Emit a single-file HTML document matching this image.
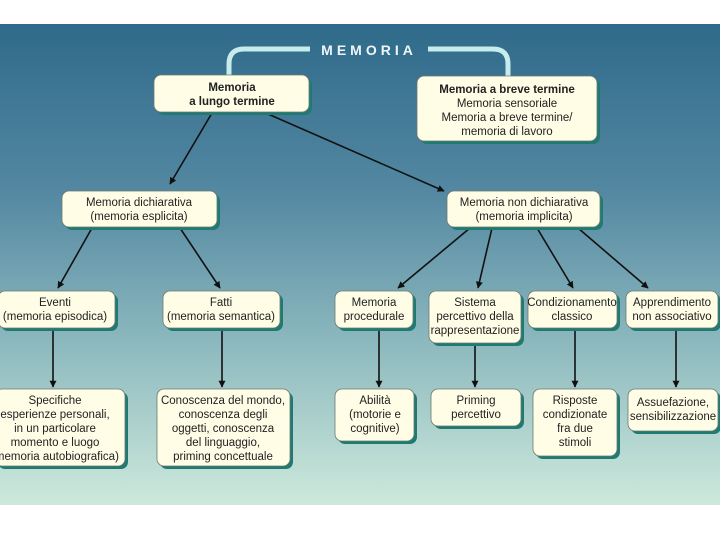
<!DOCTYPE html>
<html><head><meta charset="utf-8"><style>
html,body{margin:0;padding:0;background:#fff;}
svg{display:block;}
text{font-family:"Liberation Sans",sans-serif;fill:#222;font-size:11.5px;text-anchor:middle;}
.b{font-weight:bold;}
</style></head><body>
<svg width="720" height="540" viewBox="0 0 720 540" xmlns="http://www.w3.org/2000/svg">
<defs>
<linearGradient id="bg" x1="0" y1="0" x2="0" y2="1">
<stop offset="0" stop-color="#2f6a8a"/>
<stop offset="0.35" stop-color="#5488a2"/>
<stop offset="0.65" stop-color="#8ab7bd"/>
<stop offset="1" stop-color="#cde9dc"/>
</linearGradient>
<marker id="ar" viewBox="0 0 10 10" refX="9" refY="5" markerWidth="7" markerHeight="7" orient="auto-start-reverse" markerUnits="userSpaceOnUse">
<path d="M0,0 L10,5 L0,10 z" fill="#111"/>
</marker>
</defs>
<rect x="0" y="24" width="720" height="481" fill="url(#bg)"/>
<!-- bracket -->
<path d="M310,49 H244 Q229,49 229,64 V76" fill="none" stroke="#c6ecec" stroke-width="5"/>
<path d="M428,49 H493 Q508,49 508,64 V77" fill="none" stroke="#c6ecec" stroke-width="5"/>
<text x="369" y="55" class="b" style="fill:#eef6f8;font-size:14px;letter-spacing:4px">MEMORIA</text>
<!-- arrows -->
<g stroke="#111" stroke-width="1.6" fill="none" marker-end="url(#ar)">
<line x1="212" y1="113" x2="170" y2="184"/>
<line x1="268" y1="114" x2="444" y2="191"/>
<line x1="92" y1="228" x2="58" y2="288"/>
<line x1="180" y1="228" x2="220" y2="288"/>
<line x1="470" y1="228" x2="398" y2="288"/>
<line x1="492" y1="228" x2="478" y2="288"/>
<line x1="537" y1="228" x2="573" y2="288"/>
<line x1="578" y1="228" x2="648" y2="288"/>
<line x1="53" y1="328" x2="53" y2="387"/>
<line x1="222" y1="328" x2="222" y2="387"/>
<line x1="379" y1="328" x2="379" y2="387"/>
<line x1="475" y1="343" x2="475" y2="387"/>
<line x1="575" y1="328" x2="575" y2="387"/>
<line x1="676" y1="328" x2="676" y2="387"/>
</g>
<!-- boxes -->
<g>
<g fill="#1f7a72">
<rect x="157" y="78" width="155" height="37" rx="7"/>
<rect x="420" y="79" width="180" height="65" rx="7"/>
<rect x="65" y="194" width="155" height="36" rx="7"/>
<rect x="450" y="194" width="153" height="36" rx="7"/>
<rect x="1" y="294" width="117" height="37" rx="7"/>
<rect x="166" y="294" width="117" height="37" rx="7"/>
<rect x="338" y="294" width="78" height="37" rx="7"/>
<rect x="432" y="294" width="92" height="52" rx="7"/>
<rect x="531" y="294" width="89" height="37" rx="7"/>
<rect x="629" y="294" width="92" height="37" rx="7"/>
<rect x="-2" y="392" width="130" height="77" rx="7"/>
<rect x="160" y="392" width="133" height="77" rx="7"/>
<rect x="338" y="392" width="79" height="52" rx="7"/>
<rect x="434" y="392" width="90" height="37" rx="7"/>
<rect x="536" y="392" width="84" height="67" rx="7"/>
<rect x="631" y="392" width="90" height="42" rx="7"/>
</g>
<g fill="#fffde6" stroke="#6b7a70" stroke-width="0.8">
<rect x="154" y="75" width="155" height="37" rx="7"/>
<rect x="417" y="76" width="180" height="65" rx="7"/>
<rect x="62" y="191" width="155" height="36" rx="7"/>
<rect x="447" y="191" width="153" height="36" rx="7"/>
<rect x="-2" y="291" width="117" height="37" rx="7"/>
<rect x="163" y="291" width="117" height="37" rx="7"/>
<rect x="335" y="291" width="78" height="37" rx="7"/>
<rect x="429" y="291" width="92" height="52" rx="7"/>
<rect x="528" y="291" width="89" height="37" rx="7"/>
<rect x="626" y="291" width="92" height="37" rx="7"/>
<rect x="-5" y="389" width="130" height="77" rx="7"/>
<rect x="157" y="389" width="133" height="77" rx="7"/>
<rect x="335" y="389" width="79" height="52" rx="7"/>
<rect x="431" y="389" width="90" height="37" rx="7"/>
<rect x="533" y="389" width="84" height="67" rx="7"/>
<rect x="628" y="389" width="90" height="42" rx="7"/>
</g>
</g>
<!-- texts -->
<text x="232" y="91" class="b">Memoria</text>
<text x="232" y="105" class="b">a lungo termine</text>
<text x="507" y="93" class="b">Memoria a breve termine</text>
<text x="507" y="107">Memoria sensoriale</text>
<text x="507" y="121">Memoria a breve termine/</text>
<text x="507" y="135">memoria di lavoro</text>
<text x="139" y="206">Memoria dichiarativa</text>
<text x="139" y="220">(memoria esplicita)</text>
<text x="524" y="206">Memoria non dichiarativa</text>
<text x="524" y="220">(memoria implicita)</text>
<text x="55" y="306">Eventi</text>
<text x="55" y="320">(memoria episodica)</text>
<text x="221" y="306">Fatti</text>
<text x="221" y="320">(memoria semantica)</text>
<text x="374" y="306">Memoria</text>
<text x="374" y="320">procedurale</text>
<text x="475" y="306">Sistema</text>
<text x="475" y="320">percettivo della</text>
<text x="475" y="334">rappresentazione</text>
<text x="572" y="306">Condizionamento</text>
<text x="572" y="320">classico</text>
<text x="672" y="306">Apprendimento</text>
<text x="672" y="320">non associativo</text>
<text x="55" y="404">Specifiche</text>
<text x="55" y="418">esperienze personali,</text>
<text x="55" y="432">in un particolare</text>
<text x="55" y="446">momento e luogo</text>
<text x="55" y="460">(memoria autobiografica)</text>
<text x="223" y="404">Conoscenza del mondo,</text>
<text x="223" y="418">conoscenza degli</text>
<text x="223" y="432">oggetti, conoscenza</text>
<text x="223" y="446">del linguaggio,</text>
<text x="223" y="460">priming concettuale</text>
<text x="375" y="404">Abilità</text>
<text x="375" y="418">(motorie e</text>
<text x="375" y="432">cognitive)</text>
<text x="476" y="404">Priming</text>
<text x="476" y="418">percettivo</text>
<text x="575" y="404">Risposte</text>
<text x="575" y="418">condizionate</text>
<text x="575" y="432">fra due</text>
<text x="575" y="446">stimoli</text>
<text x="673" y="406">Assuefazione,</text>
<text x="673" y="420">sensibilizzazione</text>
</svg>
</body></html>
